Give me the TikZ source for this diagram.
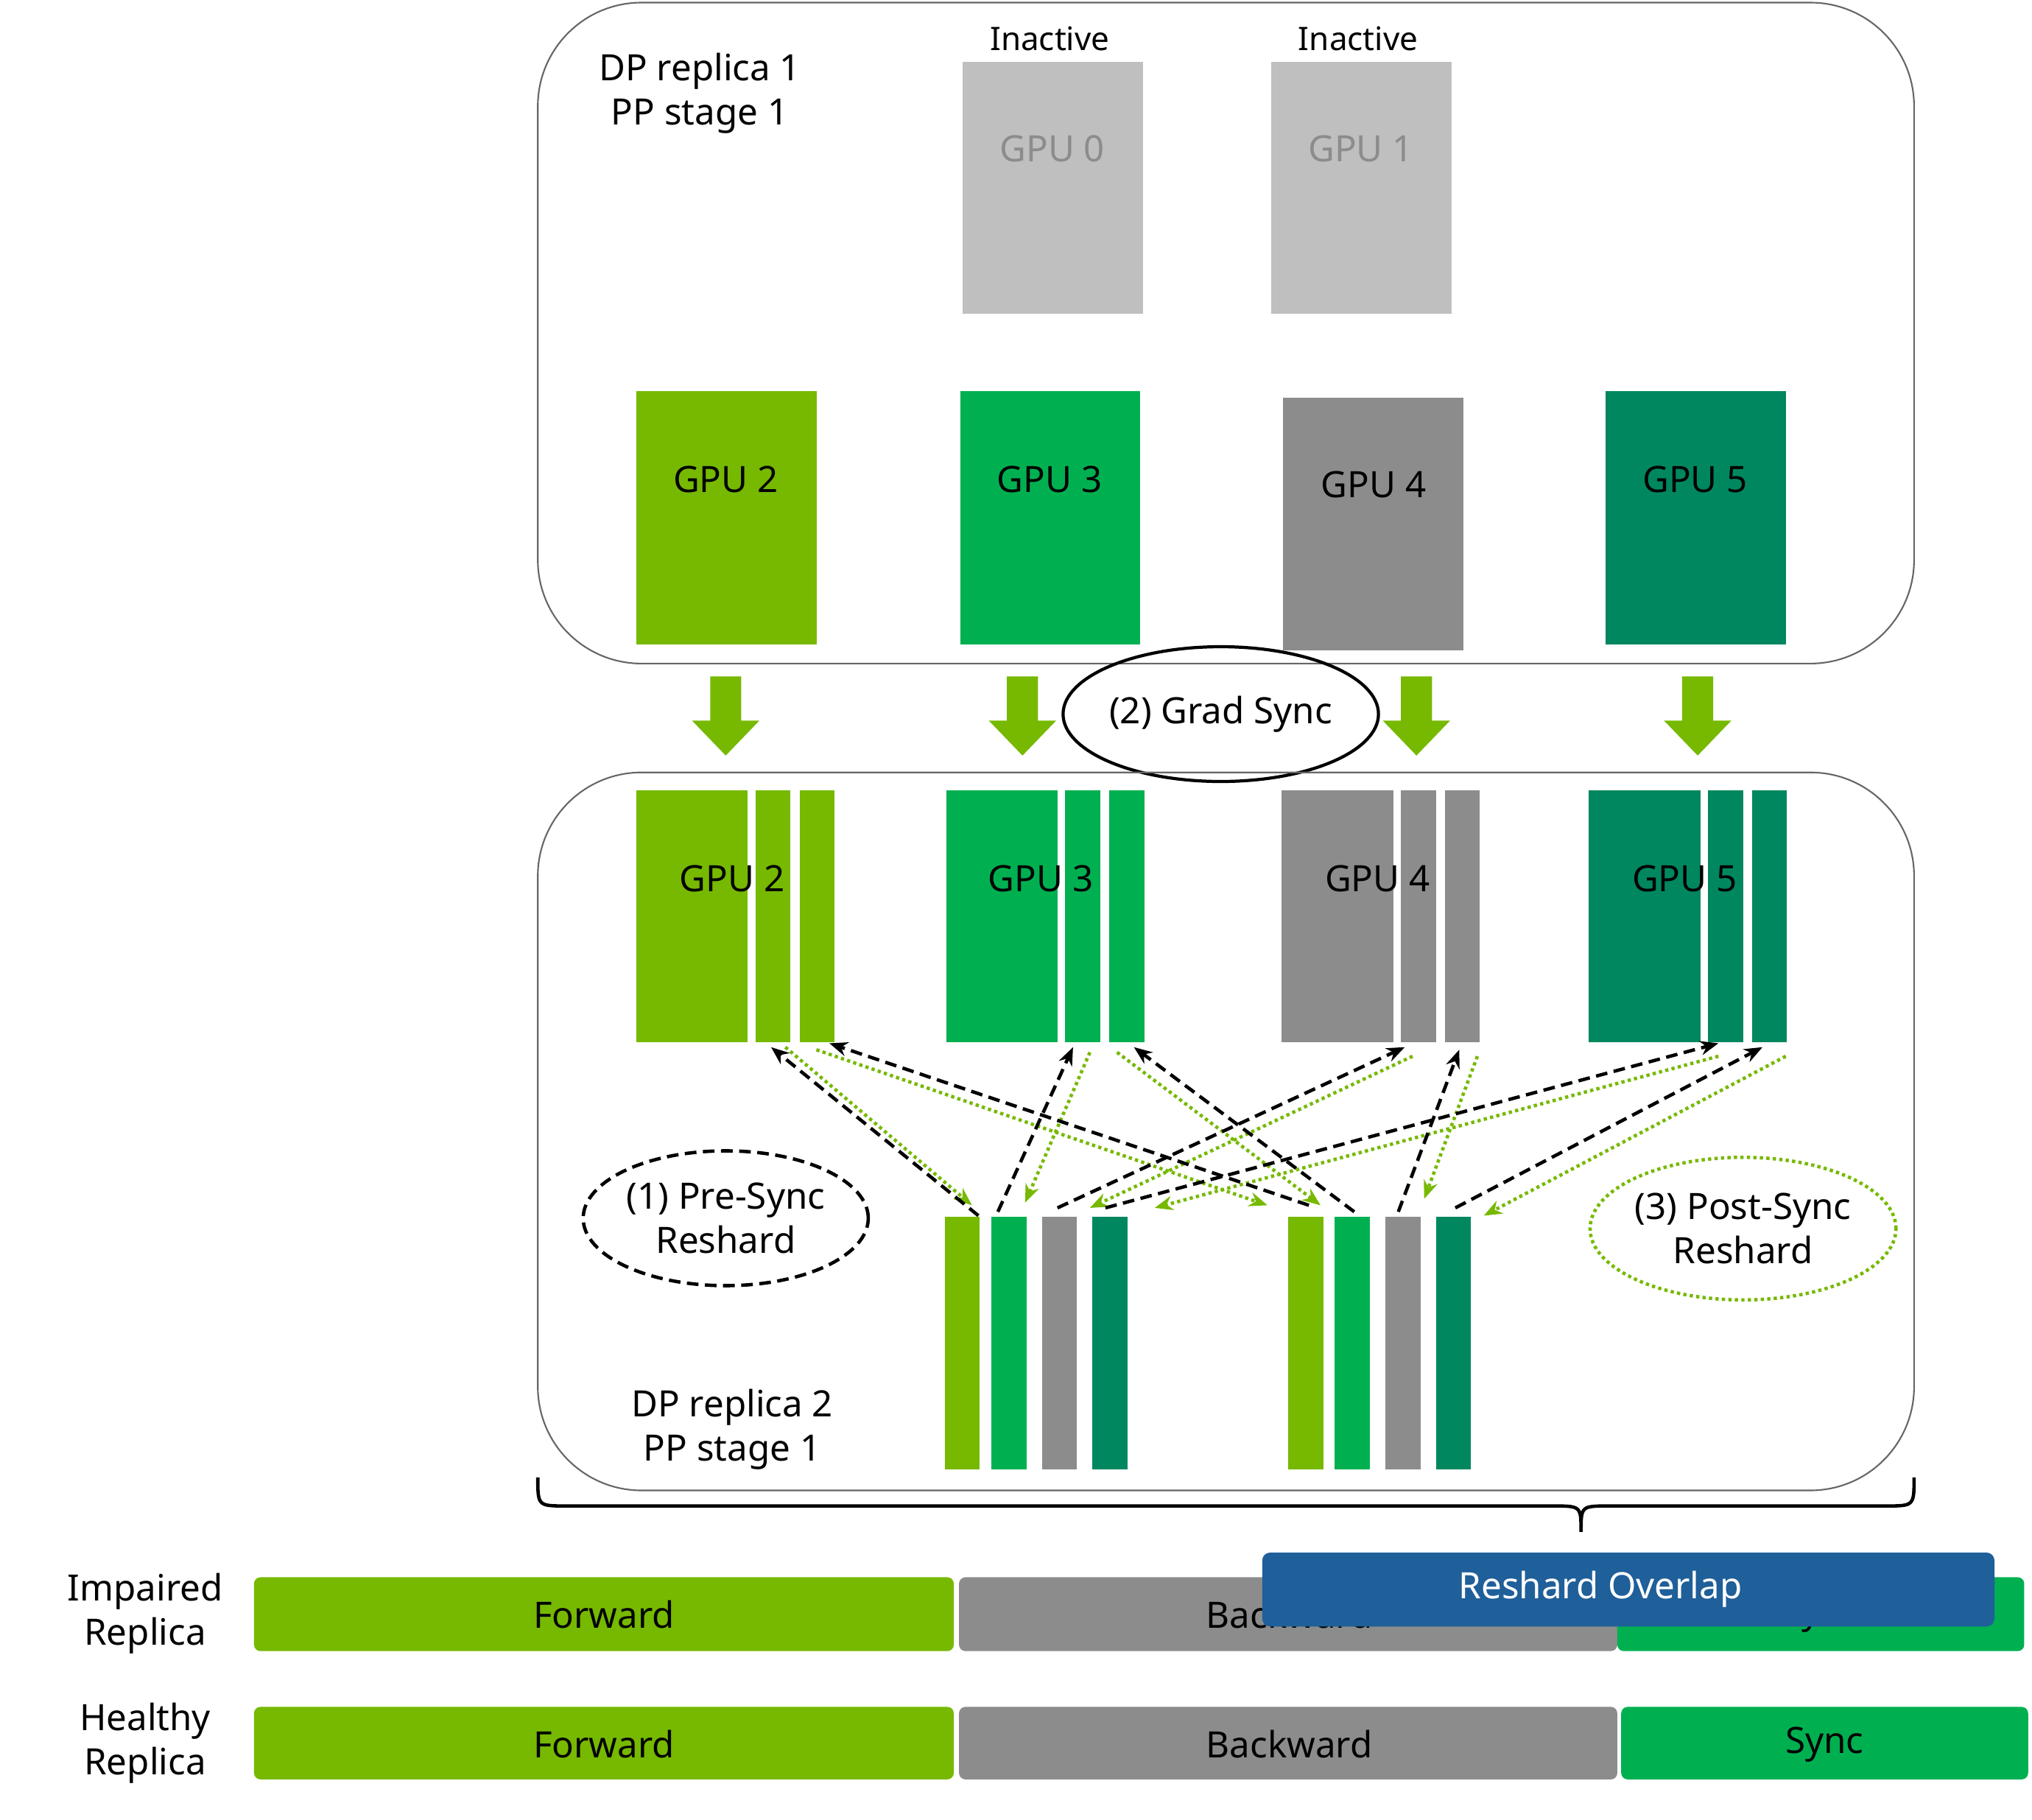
\documentclass[tikz,border=0pt]{standalone}
\usepackage{fontspec}
\setmainfont{Noto Sans}
\usetikzlibrary{arrows.meta,shapes.geometric}
\definecolor{lg}{HTML}{76B900}
\definecolor{mg}{HTML}{00B050}
\definecolor{tg}{HTML}{00875F}
\definecolor{gy}{HTML}{8C8C8C}
\definecolor{lgy}{HTML}{BFBFBF}
\definecolor{bl}{HTML}{1F5F9A}
\begin{document}
\begin{tikzpicture}[x=1pt,y=-1pt,
  box/.style={draw=black!60,line width=1.2pt,rounded corners=80pt},
  t/.style={font=\fontsize{28}{34}\selectfont,align=center,inner sep=0},
  ts/.style={font=\fontsize{25}{30}\selectfont,align=center,inner sep=0},
  bar/.style={draw=none,inner sep=0},
  blk/.style={draw=black,line width=2.6pt,dash pattern=on 9pt off 5pt,-{Stealth[length=14pt,width=11pt]}},
  grn/.style={draw=lg,line width=2.6pt,dash pattern=on 2.5pt off 2.5pt,-{Stealth[length=14pt,width=11pt]}},
  down/.style={fill=lg,draw=none}]
\useasboundingbox (0,0) rectangle (1568,1404);
% top box
\draw[box] (415,2) rectangle (1477,512);
\node[t] (dp1) at (540,72) {DP replica 1\\PP stage 1};
\node[ts] (in0) at (810,30) {Inactive};
\node[ts] (in1) at (1048,30) {Inactive};
\fill[lgy] (743,48) rectangle (882,242); \node[t,text=gy] (g0) at (812,115) {GPU 0};
\fill[lgy] (981,48) rectangle (1120,242); \node[t,text=gy] (g1) at (1050,115) {GPU 1};
\fill[lg] (491,302) rectangle (630,497); \node[t] (g2) at (560,370) {GPU 2};
\fill[mg] (741,302) rectangle (880,497); \node[t] (g3) at (810,370) {GPU 3};
\fill[gy] (990,307) rectangle (1129,502); \node[t] (g4) at (1060,374) {GPU 4};
\fill[tg] (1239,302) rectangle (1378,497); \node[t] (g5) at (1308,370) {GPU 5};
% down arrows
\foreach \x in {560,789,1093,1310}{
  \fill[lg] (\x-12,522) -- (\x+12,522) -- (\x+12,556) -- (\x+26,556) -- (\x,583) -- (\x-26,556) -- (\x-12,556) -- cycle;}
\node[t,draw=black,line width=2.4pt,ellipse,minimum width=236pt,minimum height=104pt] (gs) at (942,551) {(2) Grad Sync};
% bottom box
\draw[box] (415,596) rectangle (1477,1150);
\foreach \a/\c in {491/lg,730/mg,989/gy,1226/tg}{
  \fill[\c] (\a,610) rectangle (\a+86,804);
  \fill[\c] (\a+92,610) rectangle (\a+119,804);
  \fill[\c] (\a+126,610) rectangle (\a+153,804);}
\node[t] (b2) at (565,678) {GPU 2};
\node[t] (b3) at (803,678) {GPU 3};
\node[t] (b4) at (1063,678) {GPU 4};
\node[t] (b5) at (1300,678) {GPU 5};
\foreach \a in {729,994}{
  \fill[lg] (\a,939) rectangle (\a+27,1134);
  \fill[mg] (\a+36,939) rectangle (\a+63,1134);
  \fill[gy] (\a+75,939) rectangle (\a+102,1134);
  \fill[tg] (\a+114,939) rectangle (\a+141,1134);}
\node[t,draw=black,line width=2.6pt,dash pattern=on 9pt off 5pt,ellipse,minimum width=220pt,minimum height=104pt] (pre) at (560,940) {(1) Pre-Sync\\Reshard};
\node[t,draw=lg,line width=2.6pt,dash pattern=on 2.5pt off 2.5pt,ellipse,minimum width=220pt,minimum height=110pt] (post) at (1345,948) {(3) Post-Sync\\Reshard};
\node[t] (dp2) at (565,1103) {DP replica 2\\PP stage 1};
% arrow endpoints
\foreach \n/\x/\y in {k1s/755/938,k1e/595/808,k2s/1010/930,k2e/640/805,k3s/770/935,k3e/828/808,
  k4s/1045/935,k4e/875/808,k5s/816/932,k5e/1084/808,k6s/853/932,k6e/1326/805,k7s/1079/935,k7e/1126/810,
  k8s/1123/932,k8e/1360/808,
  q1s/606/808,q1e/750/930,q2s/630/810,q2e/978/930,q3s/841/812,q3e/791/928,q4s/862/812,q4e/1019/930,
  q5s/1090/815,q5e/841/932,q6s/1140/815,q6e/1099/925,q7s/1326/815,q7e/891/932,q8s/1378/815,q8e/1145/938}
  {\coordinate (\n) at (\x,\y);}
\foreach \i in {1,...,8}{\draw[grn] (q\i s) -- (q\i e);}
\foreach \i in {1,...,8}{\draw[blk] (k\i s) -- (k\i e);}
% brace
\draw[line width=2.6pt] (415,1140) .. controls (415,1162) .. (437,1162) -- (1198,1162) .. controls (1220,1162) .. (1220,1182)
  .. controls (1220,1162) .. (1242,1162) -- (1455,1162) .. controls (1477,1162) .. (1477,1140);
% timeline
\node[t] (imp) at (112,1245) {Impaired\\Replica};
\node[t] (hea) at (112,1345) {Healthy\\Replica};
\fill[lg,rounded corners=5pt] (196,1217) rectangle (736,1274); \node[t] (f1) at (466,1246) {Forward};
\fill[gy,rounded corners=5pt] (740,1217) rectangle (1248,1274); \node[t] (bk1) at (995,1246) {Backward};
\fill[mg,rounded corners=5pt] (1248,1217) rectangle (1562,1274); \node[t] (s1) at (1405,1246) {Sync};
\fill[bl,rounded corners=6pt] (974,1198) rectangle (1539,1255); \node[t,text=white] (ro) at (1235,1226) {Reshard Overlap};
\fill[lg,rounded corners=5pt] (196,1317) rectangle (736,1373); \node[t] (f2) at (466,1346) {Forward};
\fill[gy,rounded corners=5pt] (740,1317) rectangle (1248,1373); \node[t] (bk2) at (995,1346) {Backward};
\fill[mg,rounded corners=5pt] (1251,1317) rectangle (1565,1373); \node[t] (s2) at (1408,1346) {Sync};
\end{tikzpicture}
\end{document}
